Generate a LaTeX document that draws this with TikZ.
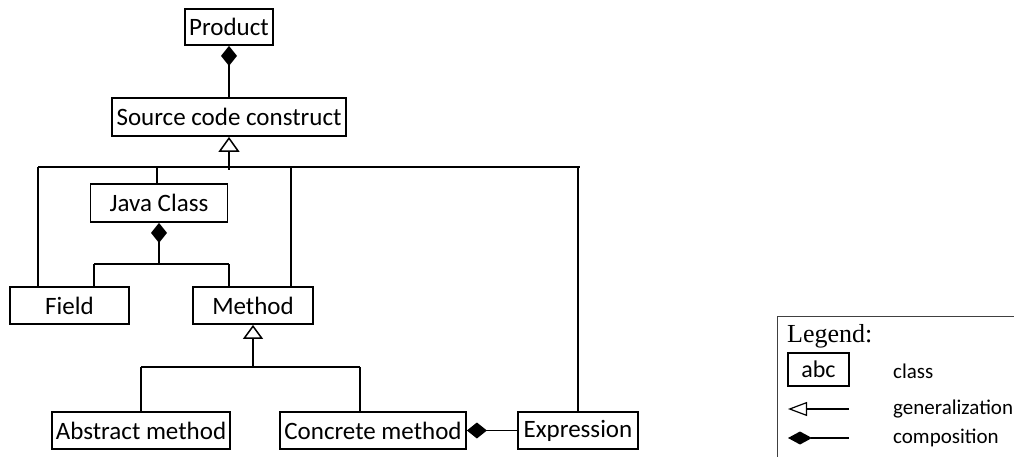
\documentclass[tikz,border=0pt]{standalone}
\usepackage{fontspec}
\setmainfont{Carlito}
\newfontfamily\legserif{Liberation Serif}
\usetikzlibrary{arrows.meta}
\tikzset{
  cls/.style={draw, line width=1.8pt, inner sep=0pt, font=\fontsize{25}{29}\selectfont},
  conn/.style={line width=1.8pt},
  compstart/.style={conn, {Diamond[length=20pt,width=16pt]}-},
  genstart/.style={conn, {Triangle[open,length=15pt,width=21pt,line width=1.5pt]}-},
  leglbl/.style={anchor=west, inner sep=0pt, font=\fontsize{21}{24}\selectfont},
}
\begin{document}
\begin{tikzpicture}[x=1pt,y=-1pt]
\clip (0,0) rectangle (1014,457);
\useasboundingbox (0,0) rectangle (1014,457);
% classes
\node[cls, minimum width=88pt, minimum height=36pt] (prod) at (229,27) {Product};
\node[cls, minimum width=234pt, minimum height=38pt] (src) at (229,117) {Source code construct};
\node[cls, minimum width=137pt, minimum height=38pt] (jc) at (159,203) {Java Class};
\node[cls, minimum width=119pt, minimum height=37pt] (field) at (69.5,305.5) {Field};
\node[cls, minimum width=120pt, minimum height=37pt] (meth) at (253,305.5) {Method};
\node[cls, minimum width=178pt, minimum height=37pt] (abs) at (141,430.5) {Abstract method};
\node[cls, minimum width=186pt, minimum height=37pt] (conc) at (373,430.5) {Concrete method};
\node[cls, minimum width=120pt, minimum height=37pt] (expr) at (578,430.5) {Expression};
% Product composition
\draw[compstart] (prod) -- (src);
% generalization bus of Source code construct
\coordinate (b0) at (229,170);
\coordinate (busL) at (38,167);
\coordinate (busR) at (580,167);
\coordinate (bJ) at (157,167);
\coordinate (bM) at (291,167);
\coordinate (bE) at (578,167);
\draw[genstart] (src.south) -- (b0);
\draw[conn] (busL) -- (busR);
\draw[conn] (busL) -- (busL |- field.north);
\draw[conn] (bJ) -- (bJ |- jc.north);
\draw[conn] (bM) -- (bM |- meth.north);
\draw[conn] (bE) -- (bE |- expr.north);
% Java Class composition
\coordinate (jj) at (159,264);
\coordinate (jL) at (94,264);
\coordinate (jR) at (229,264);
\draw[compstart] (jc.south) -- (jj);
\draw[conn] (jL) -- (jR);
\draw[conn] (jL) -- (jL |- field.north);
\draw[conn] (jR) -- (jR |- meth.north);
% Method generalization
\coordinate (mj) at (253,367);
\coordinate (mL) at (141,367);
\coordinate (mR) at (360,367);
\draw[conn, {Triangle[open,length=14pt,width=20pt,line width=1.5pt]}-] (meth.south) -- (mj);
\draw[conn] (mL) -- (mR);
\draw[conn] (mL) -- (mL |- abs.north);
\draw[conn] (mR) -- (mR |- conc.north);
% Concrete method - Expression
\draw[compstart] (conc.east) -- (expr.west);
% legend
\node[draw=black!75, line width=1pt, minimum width=260pt, minimum height=160pt, anchor=north west] (legbox) at (777,316) {};
\node[anchor=base west, inner sep=0pt, font=\legserif\fontsize{26}{30}\selectfont] (legt) at (787,342) {Legend:};
\node[draw, line width=1.2pt, minimum width=61pt, minimum height=33pt, inner sep=0pt, font=\fontsize{24}{28}\selectfont] (abc) at (818.5,369.5) {abc};
\node[leglbl] (lclass) at (893,371) {class};
\coordinate (g1) at (788,409);
\coordinate (g2) at (849,409);
\draw[line width=1.3pt, {Triangle[open,length=19pt,width=14pt,line width=1.2pt]}-] (g1) -- (g2);
\node[leglbl] (lgen) at (893,409) {generalization};
\coordinate (c1) at (788,438);
\coordinate (c2) at (849,438);
\draw[line width=1.3pt, {Diamond[length=24pt,width=13pt]}-] (c1) -- (c2);
\node[leglbl] (lcomp) at (893,438) {composition};
\end{tikzpicture}
\end{document}
